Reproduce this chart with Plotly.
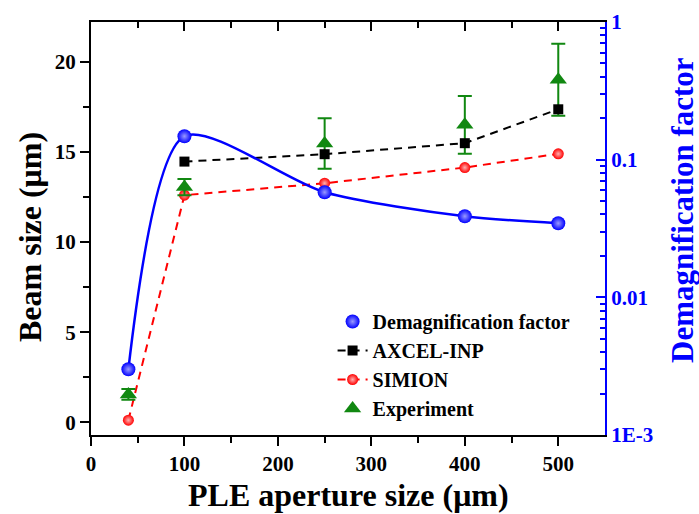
import plotly.graph_objects as go

# ---- data ----
aperture = [40, 100, 250, 400, 500]
demag = [0.0030, 0.148, 0.058, 0.0388, 0.0345]
axcel_x = [100, 250, 400, 500]
axcel = [14.46, 14.87, 15.48, 17.36]
simion = [0.12, 12.6, 13.26, 14.13, 14.89]
experiment = [1.55, 13.05, 15.46, 16.5, 19.0]
experiment_err = [0.3, 0.45, 1.4, 1.6, 2.0]

left_ticks = [0, 5, 10, 15, 20]
left_minor = [2.5, 7.5, 12.5, 17.5]
x_ticks = [0, 100, 200, 300, 400, 500]
x_minor = [50, 150, 250, 350, 450]
right_ticks = [0.001, 0.01, 0.1, 1]
right_ticktext = ["1E-3", "0.01", "0.1", "1"]
right_minor = [m * 10 ** e for e in (-3, -2, -1) for m in range(2, 10)]

FONT = "Liberation Serif"
BLUE = "#0000FF"
RED = "#FF0000"
GREEN = "#118811"

fig = go.Figure()

# SIMION
fig.add_trace(go.Scatter(
    x=aperture, y=simion, mode="lines+markers", name="SIMION",
    line=dict(color=RED, width=2, dash="8px,6px"),
    marker=dict(symbol="circle", size=11, color=RED,
                gradient=dict(type="radial", color="#ffb0b0")),
    legendrank=3, yaxis="y", xaxis="x"))

# Experiment
fig.add_trace(go.Scatter(
    x=aperture, y=experiment, mode="markers", name="Experiment",
    marker=dict(symbol="triangle-up", size=15, color=GREEN),
    error_y=dict(type="data", array=experiment_err, color=GREEN,
                 thickness=2, width=7),
    legendrank=4, yaxis="y", xaxis="x"))

# AXCEL-INP
fig.add_trace(go.Scatter(
    x=axcel_x, y=axcel, mode="lines+markers", name="AXCEL-INP",
    line=dict(color="black", width=2, dash="8px,6px"),
    marker=dict(symbol="square", size=10, color="black"),
    legendrank=2, yaxis="y", xaxis="x"))

# invisible trace for the top axis
fig.add_trace(go.Scatter(
    x=[0, 550], y=[0, 0], mode="markers", xaxis="x2", yaxis="y",
    marker=dict(opacity=0), showlegend=False, hoverinfo="skip"))

# Demagnification factor (right log axis)
fig.add_trace(go.Scatter(
    x=aperture, y=demag, mode="lines", line=dict(color=BLUE, width=2.5,
                                                  shape="spline", smoothing=0.75),
    showlegend=False, yaxis="y2", xaxis="x"))
fig.add_trace(go.Scatter(
    x=aperture, y=demag, mode="markers", name="Demagnification factor",
    marker=dict(symbol="circle", size=14, color=BLUE,
                gradient=dict(type="radial", color="#9a9aff")),
    legendrank=1, yaxis="y2", xaxis="x"))

tickfont = dict(family=FONT, size=21, color="black", weight="bold")
titlefont = dict(family=FONT, size=32, color="black", weight="bold")

fig.update_layout(
    width=699, height=514,
    margin=dict(l=91, r=94, t=22, b=79, autoexpand=False),
    paper_bgcolor="white", plot_bgcolor="white",
    font=dict(family=FONT, color="black", weight="bold"),
    showlegend=True,
    legend=dict(x=0.47, y=0.322, xanchor="left", yanchor="top",
                bgcolor="rgba(0,0,0,0)",
                font=dict(family=FONT, size=20, color="black", weight="bold"),
                tracegroupgap=0, itemwidth=30),
    xaxis=dict(range=[0, 550], showline=True, linecolor="black", linewidth=2,
               ticks="outside", ticklen=9, tickwidth=2, tickcolor="black",
               tickvals=x_ticks, tickfont=tickfont, automargin=False,
               minor=dict(tickvals=x_minor, ticks="outside",
                          ticklen=6, tickwidth=2, tickcolor="black"),
               showgrid=False, zeroline=False),
    xaxis2=dict(range=[0, 550], overlaying="x", side="top", showline=True,
                linecolor="black", linewidth=2, ticks="inside", ticklen=9,
                tickwidth=2, tickcolor="black", tickvals=x_ticks,
                showticklabels=False, showgrid=False, zeroline=False,
                automargin=False,
                minor=dict(tickvals=x_minor, ticks="inside",
                           ticklen=6, tickwidth=2, tickcolor="black")),
    yaxis=dict(range=[-0.7, 22.2], showline=True, linecolor="black", linewidth=2,
               ticks="outside", ticklen=9, tickwidth=2, tickcolor="black",
               tickvals=left_ticks, tickfont=tickfont, automargin=False,
               minor=dict(tickvals=left_minor, ticks="outside", ticklen=6,
                          tickwidth=2, tickcolor="black"),
               showgrid=False, zeroline=False),
    yaxis2=dict(type="log", range=[-3, 0], overlaying="y", side="right",
                showline=True, linecolor=BLUE, linewidth=2,
                ticks="inside", ticklen=9, tickwidth=2, tickcolor=BLUE,
                tickvals=right_ticks, ticktext=right_ticktext, automargin=False,
                tickfont=dict(family=FONT, size=21, color=BLUE, weight="bold"),
                minor=dict(tickvals=right_minor, ticks="inside", ticklen=5,
                           tickwidth=2, tickcolor=BLUE),
                showgrid=False, zeroline=False),
    annotations=[
        dict(text="PLE aperture size (μm)", xref="paper", yref="paper",
             x=(348 - 91) / 514, y=-(495 - 435) / 413, xanchor="center",
             yanchor="middle", showarrow=False, font=titlefont),
        dict(text="Beam size (μm)", xref="paper", yref="paper",
             x=-(91 - 30) / 514, y=(435 - 237) / 413, xanchor="center",
             yanchor="middle", showarrow=False, textangle=-90, font=titlefont),
        dict(text="Demagnification factor", xref="paper", yref="paper",
             x=1 + (682 - 605) / 514, y=(435 - 210) / 413, xanchor="center",
             yanchor="middle", showarrow=False, textangle=-90,
             font=dict(family=FONT, size=31, color=BLUE, weight="bold")),
    ],
)

fig.write_html("out.html",
               config={"displayModeBar": False},
               post_script="document.body.style.margin='0';"
                           "document.body.style.padding='0';")
